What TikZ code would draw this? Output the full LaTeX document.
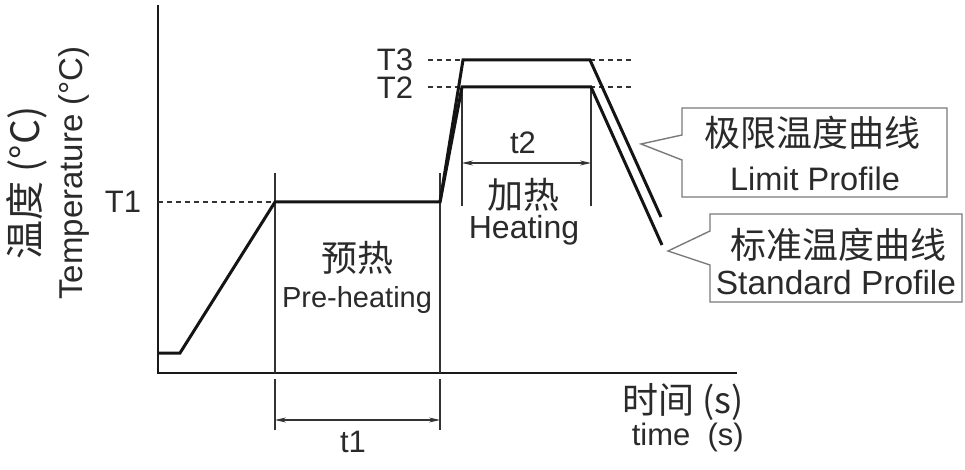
\documentclass[tikz,border=0pt]{standalone}
\usepackage{fontspec}
\setmainfont{Liberation Sans}
\newfontfamily\cjk{Noto Sans CJK SC}
\usetikzlibrary{arrows.meta}
\definecolor{txt}{HTML}{2A2A2A}
\definecolor{boxc}{HTML}{7A7A7A}
\begin{document}
\begin{tikzpicture}[x=1pt,y=-1pt,
  lbl/.style={text=txt,font=\fontsize{31}{34}\selectfont,inner sep=0pt},
  cjklbl/.style={text=txt,font=\cjk\fontsize{36}{40}\selectfont,inner sep=0pt},
  axisline/.style={line width=1.8pt,black!90},
  profile/.style={line width=3pt,black!92,line join=miter},
  dimline/.style={line width=1.1pt,black!80},
  dimarrow/.style={line width=1.1pt,black!80,{Stealth[length=11pt,width=5pt]}-{Stealth[length=11pt,width=5pt]}},
  guide/.style={line width=1.2pt,black!80,dash pattern=on 5pt off 4pt},
  callout/.style={line width=1.4pt,boxc,line join=miter}]
\useasboundingbox (0,0) rectangle (965,470);
\fill[white] (0,0) rectangle (965,470);

% axes
\coordinate (ytop) at (158,5);
\coordinate (orig) at (158,373);
\coordinate (xend) at (737,373);
\draw[axisline] (ytop) -- (orig) -- (xend);

% guide lines
\coordinate (g1a) at (158,202); \coordinate (g1b) at (275,202);
\draw[guide] (g1a) -- (g1b);
\coordinate (g3a) at (428,60); \coordinate (g3b) at (633,60);
\coordinate (g2a) at (428,87); \coordinate (g2b) at (633,87);
\draw[guide] (g3a) -- (g3b);
\draw[guide] (g2a) -- (g2b);

% dimension lines
\coordinate (v1t) at (275,173); \coordinate (v1b) at (275,373);
\coordinate (v2t) at (440,173); \coordinate (v2b) at (440,373);
\coordinate (v1s) at (275,379); \coordinate (v1e) at (275,430);
\coordinate (v2s) at (440,379); \coordinate (v2e) at (440,430);
\draw[dimline] (v1t) -- (v1b);
\draw[dimline] (v2t) -- (v2b);
\draw[dimline] (v1s) -- (v1e);
\draw[dimline] (v2s) -- (v2e);
\coordinate (v3t) at (462,87); \coordinate (v3b) at (462,206);
\coordinate (v4t) at (591,87); \coordinate (v4b) at (591,206);
\draw[dimline] (v3t) -- (v3b);
\draw[dimline] (v4t) -- (v4b);
\coordinate (a1l) at (275,420); \coordinate (a1r) at (440,420);
\draw[dimarrow] (a1l) -- (a1r);
\coordinate (a2l) at (462,163); \coordinate (a2r) at (591,163);
\draw[dimarrow] (a2l) -- (a2r);

% profiles
\coordinate (p0) at (159,353);
\coordinate (p1) at (180,353);
\coordinate (p2) at (275,202);
\coordinate (p3) at (440,202);
\coordinate (s1) at (462,87);
\coordinate (s2) at (591,87);
\coordinate (s3) at (662,245);
\coordinate (l1) at (463,60);
\coordinate (l2) at (590,60);
\coordinate (l3) at (661,217);
\draw[profile] (p0) -- (p1) -- (p2) -- (p3) -- (s1) -- (s2) -- (s3);
\draw[profile] (p3) -- (l1) -- (l2) -- (l3);

% callouts
\coordinate (la) at (682,135); \coordinate (lb) at (682,108);
\coordinate (lc) at (947,108); \coordinate (ld) at (947,197);
\coordinate (le) at (682,197); \coordinate (lf) at (682,160);
\coordinate (lt) at (641,144);
\fill[white] (la) -- (lb) -- (lc) -- (ld) -- (le) -- (lf) -- (lt) -- cycle;
\draw[callout] (la) -- (lb) -- (lc) -- (ld) -- (le) -- (lf) -- (lt) -- cycle;
\coordinate (sa) at (710,231); \coordinate (sb) at (710,214);
\coordinate (sc) at (962,214); \coordinate (sd) at (962,302);
\coordinate (se) at (710,302); \coordinate (sf) at (710,265);
\coordinate (st) at (668,251);
\fill[white] (sa) -- (sb) -- (sc) -- (sd) -- (se) -- (sf) -- (st) -- cycle;
\draw[callout] (sa) -- (sb) -- (sc) -- (sd) -- (se) -- (sf) -- (st) -- cycle;

% labels
\node[cjklbl,rotate=90,font=\cjk\fontsize{39}{42}\selectfont] (ycn) at (27,183) {温度 (°C)};
\node[lbl,rotate=90,font=\fontsize{33}{36}\selectfont] (yen) at (74,173) {Temperature (°C)};
\node[lbl] (T1) at (123,202) {T1};
\node[lbl] (T3) at (395,60) {T3};
\node[lbl] (T2) at (395,88) {T2};
\node[lbl] (t1) at (353,442) {t1};
\node[lbl] (t2) at (523,143) {t2};
\node[cjklbl] (preCN) at (357,258) {预热};
\node[lbl,font=\fontsize{29}{32}\selectfont] (preEN) at (357,300) {Pre-heating};
\node[cjklbl] (heatCN) at (523,195) {加热};
\node[lbl,font=\fontsize{32}{35}\selectfont] (heatEN) at (524,230) {Heating};
\node[cjklbl] (limCN) at (812,133) {极限温度曲线};
\node[lbl,font=\fontsize{32.5}{35}\selectfont] (limEN) at (815,179) {Limit Profile};
\node[cjklbl] (stdCN) at (838,245) {标准温度曲线};
\node[lbl,font=\fontsize{33.5}{36}\selectfont] (stdEN) at (836,283) {Standard Profile};
\node[cjklbl,anchor=east] (timeCN) at (744,402) {时间 (s)};
\node[lbl,anchor=east] (timeEN) at (744,437) {time\ \ (s)};
\end{tikzpicture}
\end{document}
